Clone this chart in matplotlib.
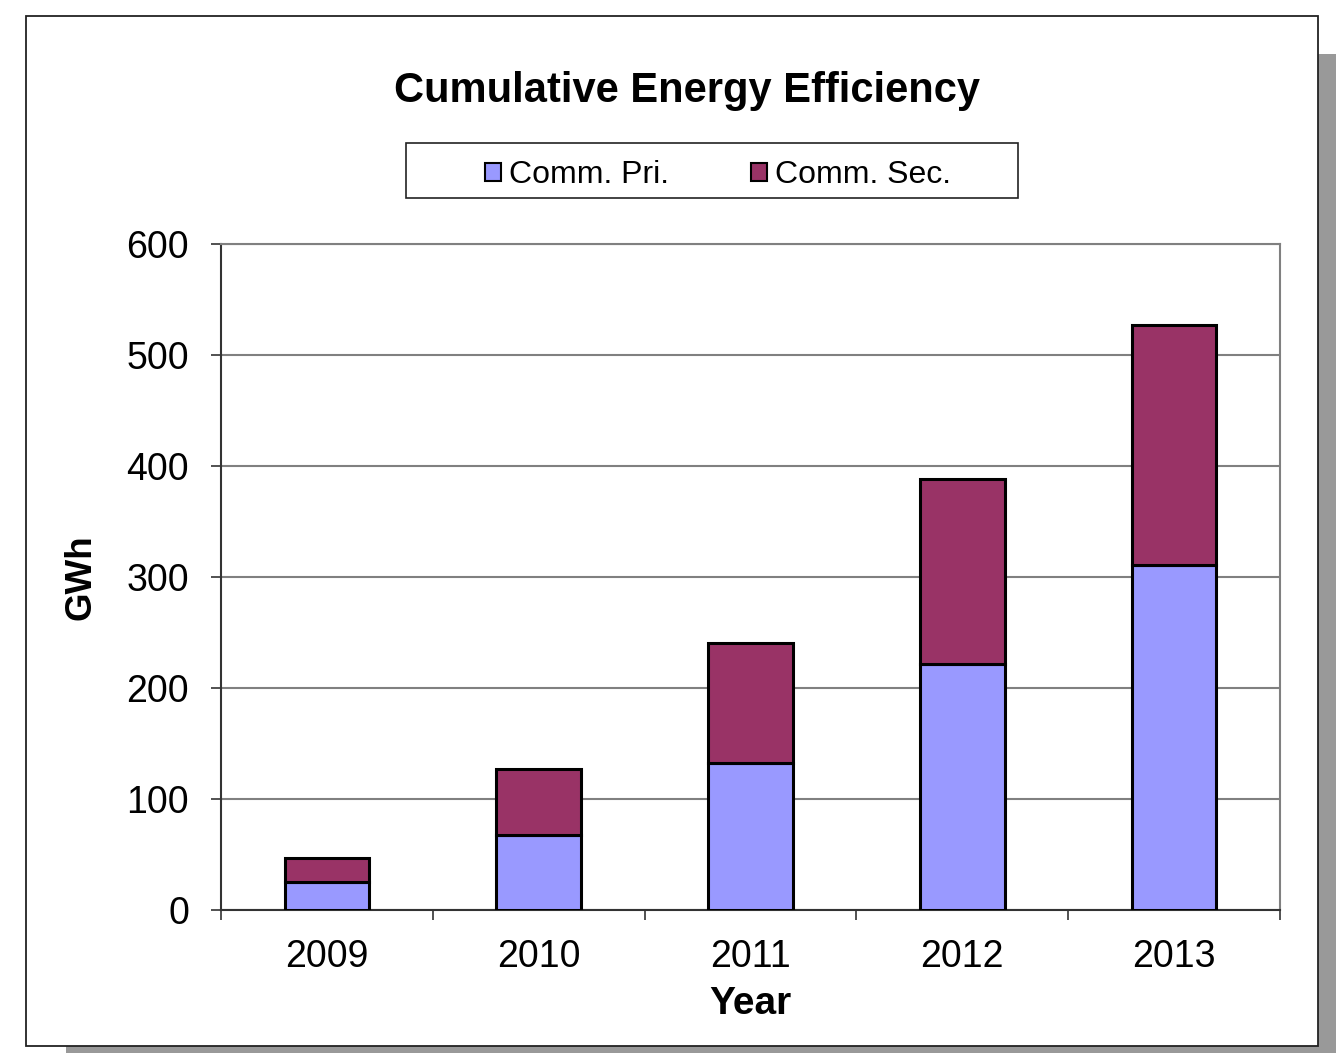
import matplotlib.pyplot as plt
from matplotlib.patches import Rectangle, Patch

years = ["2009", "2010", "2011", "2012", "2013"]
comm_pri = [24.5, 67, 132, 221, 311]
comm_sec = [21.5, 60, 108, 167, 216]
y_ticks = [0, 100, 200, 300, 400, 500, 600]

PRI_COLOR = "#9999ff"
SEC_COLOR = "#993366"
W, H = 1336, 1053

plt.rcParams["font.family"] = ["Liberation Sans", "DejaVu Sans"]

fig = plt.figure(figsize=(W / 100, H / 100), dpi=100)
fig.patch.set_facecolor("white")


def px_box(x0, y0, x1, y1):
    # pixel coords (top-left origin) -> figure fraction rect
    return (x0 / W, 1 - y1 / H, (x1 - x0) / W, (y1 - y0) / H)


def add_rect(box, **kw):
    x0, y0, w, h = px_box(*box)
    fig.patches.append(Rectangle((x0, y0), w, h, transform=fig.transFigure,
                                 **kw))


# drop shadow and chart frame
add_rect((66, 54, 1360, 1090), facecolor="#999999", edgecolor="none",
         zorder=0)
add_rect((26, 16, 1318, 1046), facecolor="white", edgecolor="#222222",
         linewidth=1.3, zorder=1)
# legend box
add_rect((406, 143, 1018, 198), facecolor="white", edgecolor="#222222",
         linewidth=1.2, zorder=2)

ax = fig.add_axes(px_box(221, 244, 1280, 909.5))
ax.set_zorder(2)
ax.set_facecolor("white")

x = list(range(len(years)))
ax.bar(x, comm_pri, width=0.4, color=PRI_COLOR, edgecolor="black",
       linewidth=2.2, label="Comm. Pri.", zorder=3)
ax.bar(x, comm_sec, width=0.4, bottom=comm_pri, color=SEC_COLOR,
       edgecolor="black", linewidth=2.2, label="Comm. Sec.", zorder=3)

ax.set_xlim(-0.5, len(years) - 0.5)
ax.set_ylim(0, 600)
ax.set_yticks(y_ticks)
ax.set_yticklabels([str(v) for v in y_ticks], fontsize=27)
ax.yaxis.grid(True, color="#808080", linewidth=1.5, zorder=0)
ax.set_axisbelow(True)

# category boundaries as ticks, labels centred between them
ax.set_xticks([i - 0.5 for i in range(len(years) + 1)])
ax.set_xticklabels([])
ax.set_xticks(x, minor=True)
ax.set_xticklabels(years, minor=True, fontsize=27)
ax.tick_params(axis="x", which="major", direction="out", length=7,
               width=1.2, color="#333333")
ax.tick_params(axis="x", which="minor", length=0, pad=21)
ax.tick_params(axis="y", direction="out", length=7, width=1.2,
               color="#333333", pad=16)

for side in ("top", "right"):
    ax.spines[side].set_color("#808080")
    ax.spines[side].set_linewidth(1.5)
for side in ("left", "bottom"):
    ax.spines[side].set_color("#333333")
    ax.spines[side].set_linewidth(1.5)

ax.set_xlabel("Year", fontsize=28, fontweight="bold", labelpad=8)
ax.set_ylabel("GWh", fontsize=26.5, fontweight="bold", labelpad=20)

fig.text(687 / W, 1 - 91 / H, "Cumulative Energy Efficiency", fontsize=30,
         fontweight="bold", ha="center", va="center", zorder=3)

handles = [Patch(facecolor=PRI_COLOR, edgecolor="black", linewidth=1.5),
           Patch(facecolor=SEC_COLOR, edgecolor="black", linewidth=1.5)]
leg = fig.legend(handles, ["Comm. Pri.", "Comm. Sec."], ncol=2,
                 loc="center", bbox_to_anchor=(718 / W, 1 - 175 / H),
                 fontsize=23, frameon=False, handlelength=0.5,
                 handleheight=0.5, handletextpad=0.25, columnspacing=2.55,
                 borderpad=0, borderaxespad=0)
leg.set_zorder(3)

fig.savefig("out.png", dpi=100, facecolor="white")
